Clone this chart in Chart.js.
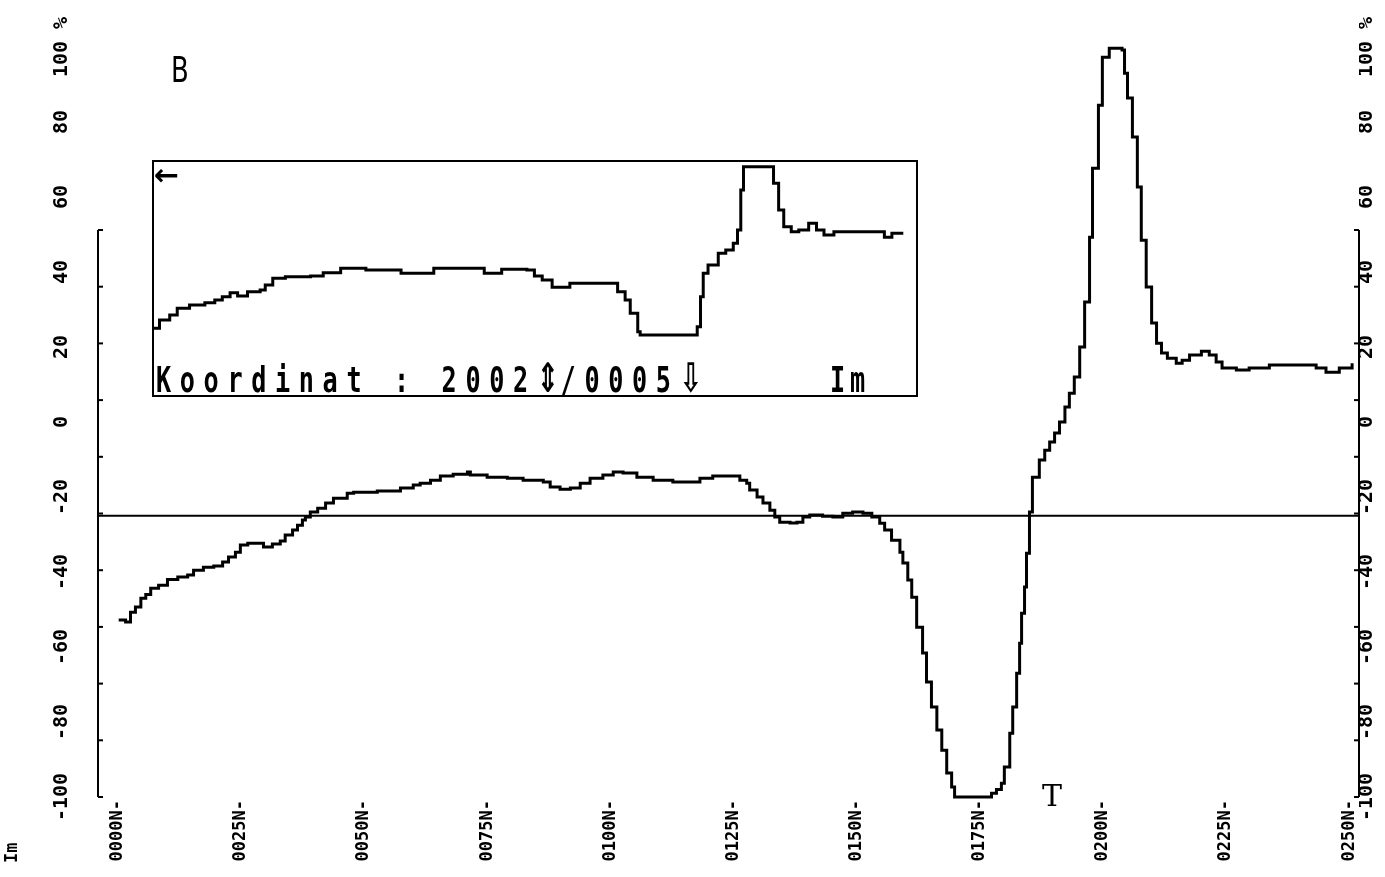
<!DOCTYPE html>
<html><head><meta charset="utf-8">
<script src="https://cdn.jsdelivr.net/npm/chart.js@4"></script>
<style>
html,body{margin:0;padding:0;background:#fff;}
#wrap{position:relative;width:1385px;height:877px;overflow:hidden;}
#main{position:absolute;left:0;top:0;}
#insetBox{position:absolute;left:152px;top:160px;width:766px;height:237px;box-sizing:border-box;border:2px solid #000;}
#inset{position:absolute;left:152px;top:160px;}
</style></head><body>
<div id="wrap">
<canvas id="main" width="1385" height="877"></canvas>
<div id="insetBox"></div>
<canvas id="inset" width="766" height="237"></canvas>
</div>
<script>
// ---- data (station in m north, Im in %) ----
const profileX = [0.2,1.6,2.6,3.6,4.7,5.7,6.7,8.3,10.1,12.2,14.2,15.4,17.4,19.5,21.3,22.5,23.9,24.9,26.4,28,29.6,31.4,33,34,35.5,36.5,37.5,38.1,39.1,40.6,42.2,43.8,46.6,47.9,52.7,57.4,60,61.4,63.5,65.5,68.1,71,71.6,75,79.1,82.3,86.4,87.8,89.8,91.9,93.9,95.9,98.5,100.6,102.6,105.4,108.7,112.7,116.2,118.2,120.8,124.3,126.3,127.7,128.3,129.8,131,132.4,133.4,134.4,136.5,137.9,139.1,140.5,143.1,145.2,147.2,149.2,151.3,153.1,154.7,155.7,157.1,158.8,159.4,160.4,161.2,162.2,163.4,164.2,165.2,166.3,167.3,168.3,169.3,169.9,175,176,177.4,178.4,179.4,180,181.1,181.7,182.5,183.1,183.5,184.1,184.5,185.1,185.7,187.1,188.2,189.2,190.2,191.2,192.3,193.2,194.2,195.3,196.3,197.3,197.9,199.1,199.9,201.3,203.9,204.4,205,206,207,207.8,208.8,209.9,210.9,211.9,213.1,214.9,216.1,217.6,220,221.6,223,224.2,227.1,229.7,233.8,240.5,243.3,245.3,248,250.6];
const profileIm = [-52.8,-53.3,-50.7,-49.3,-47,-46,-44.3,-43.5,-42,-41.3,-40.8,-39.5,-38.7,-38.4,-37.3,-36,-34.7,-32.8,-32.3,-32.3,-33.3,-32.5,-31.7,-30.1,-28.8,-27.5,-26.1,-25.3,-24,-23,-21.6,-20.3,-19,-18.7,-18.4,-17.6,-16.8,-16.3,-15.5,-14.4,-13.9,-13.3,-14.1,-14.7,-15,-15.5,-16,-17.3,-17.9,-17.6,-16.3,-15,-14.1,-13.3,-13.6,-14.7,-15.5,-16,-16,-15,-14.4,-14.4,-15.5,-16.3,-18.1,-20,-21.6,-23.5,-25.3,-26.7,-26.9,-26.7,-25.3,-24.8,-25.1,-25.3,-24.3,-24,-24.3,-25.3,-27,-28.8,-31.5,-34.7,-37.6,-42.1,-46.7,-54.7,-61.6,-69.3,-76,-82.1,-87.5,-93.6,-97.3,-100,-100,-100,-99,-98,-96.3,-92,-83,-76,-67,-59,-51,-44,-35,-24,-14.7,-10.1,-7.5,-5.3,-2.9,0,4,7.7,12,20,32,49.3,67.7,84.5,97.3,99.7,99.2,93,86.4,76,62.7,48.5,36,26.4,21,18.4,17,15.7,16.5,17.9,18.9,17.9,16,14.4,13.9,14.4,15.2,15.2,14.4,13.3,14.4,15.7];
const insetX = [0,2.5,5.9,8.4,12.5,17.6,20.9,23.4,26,28.5,31.8,36,37.7,40.2,44.4,52.8,57,62.8,71.2,81.3,82.9,92.1,93.8,108.1,110.6,116.4,124.8,127.3,129.9,133.2,138.2,139.1,152.5,155,157.5,159.2,161.7,162.5,180.1,181.5,182.6,183.5,185.1,188.5,191,193.5,194.9,196,196.9,205.2,206.9,208.6,210.3,212.8,215.3,218.6,221.2,223.7,227,240.4,243.8,246.3,249.6];
const insetIm = [-92.1,-82.4,-76.5,-68.6,-64.7,-62,-58.8,-54.9,-50.2,-54.1,-49.1,-47.1,-41.2,-33.3,-31.4,-30.6,-26.7,-21.5,-23.5,-23.5,-27.4,-27.4,-21.5,-21.5,-27.4,-22.7,-23.5,-30.6,-35.3,-43.9,-43.9,-39.2,-39.2,-49.1,-58.8,-74.5,-96.1,-100,-100,-90.2,-54.9,-27.4,-17.6,-3.9,0,7.9,23.5,70.6,98,98,78.5,47.1,27.4,21.5,23.5,31.4,23.5,17.6,21.5,21.5,14.9,19.6,21.5];
const refLevel = [-25];
const xTickValues = [0,25,50,75,100,125,150,175,200,225,250];
const xTickLabels = ['0000N-','0025N-','0050N-','0075N-','0100N-','0125N-','0150N-','0175N-','0200N-','0225N-','0250N-'];
const yTickValues = [-100,-80,-60,-40,-20,0,20,40,60,80,100];
const yTickLabels = ['-100','-80','-60','-40','-20','0','20','40','60','80','100 %'];
const insetCaption = 'Koordinat : 2002\u21D5/0005\u21E9';

// ---- axis ranges ----
const xMin = -4, xMax = 252;
const frameTop = 51.2, frameDivisions = 10;

const mono = 'DejaVu Sans Mono';
function yTickOpts(padding){
  return {autoSkip:false, minRotation:90, maxRotation:90, crossAlign:'center', padding:padding,
    color:'#000', font:{family:mono, size:20, weight:'bold'},
    callback:(v)=> yTickLabels[yTickValues.indexOf(v)]};
}

const framePlugin = {
  id:'frame',
  afterDraw(chart){
    const ctx = chart.ctx, y = chart.scales.y, a = chart.chartArea;
    const yb = y.getPixelForValue(-100), yt = y.getPixelForValue(frameTop);
    ctx.save();
    ctx.strokeStyle = '#000'; ctx.lineWidth = 2;
    [[a.left,1],[a.right,-1]].forEach(([x,dir])=>{
      ctx.beginPath(); ctx.moveTo(x,yt); ctx.lineTo(x,yb); ctx.stroke();
      for(let i=0;i<=frameDivisions;i++){
        const py = y.getPixelForValue(-100 + (frameTop+100)*i/frameDivisions);
        ctx.beginPath(); ctx.moveTo(x,py); ctx.lineTo(x+dir*5,py); ctx.stroke();
      }
    });
    ctx.fillStyle = '#000';
    // panel letter
    ctx.save(); ctx.translate(171,82); ctx.scale(0.72,1);
    ctx.font = "36px 'DejaVu Sans'"; ctx.textBaseline='alphabetic'; ctx.fillText('B',0,0);
    ctx.restore();
    // marker T
    ctx.font = "30px 'DejaVu Serif'"; ctx.fillText('T',1042,806);
    // unit label
    ctx.save(); ctx.translate(17,863); ctx.rotate(-Math.PI/2);
    ctx.font = "bold 17px "+mono; ctx.fillText('Im',0,0);
    ctx.restore();
    ctx.restore();
  }
};

new Chart(document.getElementById('main'), {
  type:'line',
  data:{datasets:[
    {data: profileX.map((x,i)=>({x:x, y:profileIm[i]})), borderColor:'#000', borderWidth:3,
     pointRadius:0, stepped:'before', fill:false, clip:false},
    {data: [{x:xMin, y:refLevel[0]},{x:xMax, y:refLevel[0]}], borderColor:'#000', borderWidth:2,
     pointRadius:0, fill:false}
  ]},
  options:{
    responsive:false, animation:false, events:[],
    layout:{padding:{top:47,left:0,right:0,bottom:0}},
    plugins:{legend:{display:false}, tooltip:{enabled:false}},
    scales:{
      x:{type:'linear', min:xMin, max:xMax, position:'bottom',
         grid:{display:false, drawTicks:false}, border:{display:false},
         afterBuildTicks:(s)=>{ s.ticks = xTickValues.map(v=>({value:v})); },
         afterFit:(s)=>{ s.height = 80; },
         ticks:{autoSkip:false, minRotation:90, maxRotation:90, padding:3, color:'#000',
           font:{family:mono, size:17, weight:'bold'},
           callback:(v)=> xTickLabels[xTickValues.indexOf(v)]}},
      y:{type:'linear', min:-100, max:100, position:'left',
         grid:{display:false, drawTicks:false}, border:{display:false},
         afterBuildTicks:(s)=>{ s.ticks = yTickValues.map(v=>({value:v})); },
         afterFit:(s)=>{ s.width = 98; },
         ticks:yTickOpts(6)},
      y2:{type:'linear', min:-100, max:100, position:'right',
         grid:{display:false, drawTicks:false}, border:{display:false},
         afterBuildTicks:(s)=>{ s.ticks = yTickValues.map(v=>({value:v})); },
         afterFit:(s)=>{ s.width = 26; },
         ticks:yTickOpts(-22)}
    }
  },
  plugins:[framePlugin]
});

const insetTextPlugin = {
  id:'insetText',
  afterDraw(chart){
    const ctx = chart.ctx;
    ctx.save(); ctx.fillStyle = '#000'; ctx.textBaseline = 'alphabetic';
    ctx.font = "bold 30px 'DejaVu Sans'"; ctx.fillText('\u2190',2,25);
    const adv = 23.8;
    [...insetCaption].forEach((ch,i)=>{
      const isArrow = ch.charCodeAt(0) > 0x2000;
      ctx.save(); ctx.translate(4+i*adv, 232);
      if (isArrow) { ctx.font = "bold 30px 'DejaVu Sans'"; ctx.scale(0.9,1.35); }
      else { ctx.font = "bold 35px "+mono; ctx.scale(0.72,1); }
      ctx.fillText(ch,0,0); ctx.restore();
    });
    ctx.font = "bold 35px "+mono;
    ['I','m'].forEach((ch,i)=>{
      ctx.save(); ctx.translate(678+i*20, 232); ctx.scale(0.72,1); ctx.fillText(ch,0,0); ctx.restore();
    });
    ctx.restore();
  }
};

new Chart(document.getElementById('inset'), {
  type:'line',
  data:{datasets:[{data: insetX.map((x,i)=>({x:x, y:insetIm[i]})), borderColor:'#000', borderWidth:3,
    pointRadius:0, stepped:'before', fill:false, clip:false}]},
  options:{
    responsive:false, animation:false, events:[],
    layout:{padding:{left:0,right:15,top:5,bottom:62}},
    plugins:{legend:{display:false}, tooltip:{enabled:false}},
    scales:{x:{type:'linear', min:0, max:250, display:false},
            y:{type:'linear', min:-100, max:100, display:false}}
  },
  plugins:[insetTextPlugin]
});
</script>
</body></html>
